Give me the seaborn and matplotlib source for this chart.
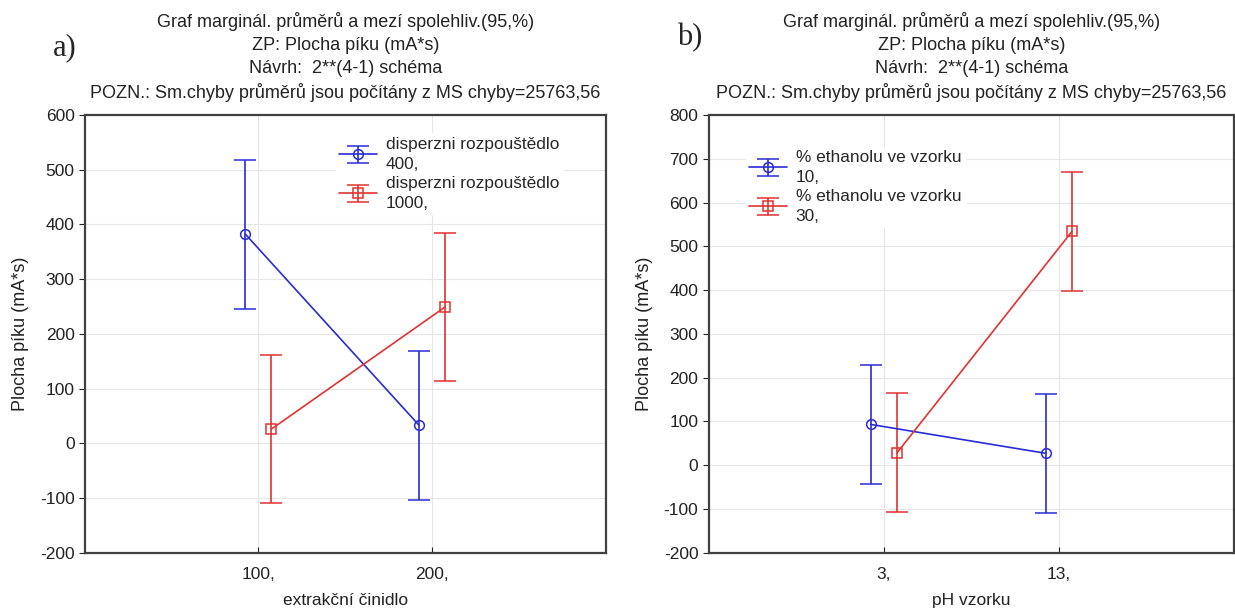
import matplotlib
matplotlib.use('Agg')
import matplotlib.pyplot as plt
import seaborn as sns

# panel a) extrakční činidlo x disperzní rozpouštědlo
a_levels = ['100,', '200,']
a_blue_mean = [382, 33]
a_red_mean = [26, 249]
a_blue_ci = [136, 136]
a_red_ci = [136, 136]
a_blue_label = 'disperzni rozpouštědlo\n400,'
a_red_label = 'disperzni rozpouštědlo\n1000,'

# panel b) pH vzorku x % ethanolu
b_levels = ['3,', '13,']
b_blue_mean = [93, 27]
b_red_mean = [28, 534]
b_blue_ci = [136, 136]
b_red_ci = [136, 136]
b_blue_label = '% ethanolu ve vzorku\n10,'
b_red_label = '% ethanolu ve vzorku\n30,'

title_lines = ['Graf marginál. průměrů a mezí spolehliv.(95,%)',
               'ZP: Plocha píku (mA*s)',
               'Návrh:  2**(4-1) schéma',
               'POZN.: Sm.chyby průměrů jsou počítány z MS chyby=25763,56']

sns.set_style('whitegrid')
plt.rcParams['font.family'] = ['Liberation Sans', 'DejaVu Sans']
plt.rcParams['axes.unicode_minus'] = False

BLUE = '#2b2bd6'
RED = '#e23232'
EDGE = '#404040'

fig = plt.figure(figsize=(12.35, 6.12), dpi=100)
ax_a = fig.add_axes([0.0688, 0.097, 0.4215, 0.715])
ax_b = fig.add_axes([0.574, 0.097, 0.425, 0.715])


def draw(ax, levels, blue_mean, blue_ci, red_mean, red_ci, blue_label, red_label,
         ylim, xlabel, leg_anchor):
    pos = [i + 1 for i in range(len(levels))]
    off = 0.075
    ax.errorbar([p - off for p in pos], blue_mean, yerr=blue_ci, color=BLUE,
                marker='o', mfc='none', ms=7, mew=1.1, lw=1.2, capsize=8,
                capthick=1.2, elinewidth=1.2, label=blue_label)
    ax.errorbar([p + off for p in pos], red_mean, yerr=red_ci, color=RED,
                marker='s', mfc='none', ms=7, mew=1.1, lw=1.2, capsize=8,
                capthick=1.2, elinewidth=1.2, label=red_label)
    ax.set_xlim(0, 3)
    ax.set_xticks(pos)
    ax.set_xticklabels(levels)
    ax.set_ylim(*ylim)
    ax.set_yticks(range(ylim[0], ylim[1] + 1, 100))
    ax.grid(color='#e6e6e6', lw=0.8)
    for s in ax.spines.values():
        s.set_color(EDGE)
        s.set_linewidth(1.6)
    ax.tick_params(axis='y', labelsize=12.5, colors='#222222', length=4,
                   direction='out', left=True)
    ax.tick_params(axis='x', labelsize=12.5, colors='#222222', length=4,
                   direction='in', bottom=True, pad=10)
    ax.set_xlabel(xlabel, fontsize=12.5, labelpad=8, color='#222222')
    ax.set_ylabel('Plocha píku (mA*s)', fontsize=13, labelpad=8, color='#222222')
    ax.set_title('\n'.join(title_lines), fontsize=13, linespacing=1.45,
                 color='#222222', pad=12)
    leg = ax.legend(loc='upper left', bbox_to_anchor=leg_anchor, fontsize=12.4,
                    frameon=True, framealpha=1, edgecolor='white',
                    handlelength=2.2, handletextpad=0.5, labelspacing=0.25,
                    borderpad=0.2, borderaxespad=0)
    for t in leg.get_texts():
        t.set_linespacing(1.4)


draw(ax_a, a_levels, a_blue_mean, a_blue_ci, a_red_mean, a_red_ci,
     a_blue_label, a_red_label, (-200, 600), 'extrakční činidlo', (0.482, 0.958))
draw(ax_b, b_levels, b_blue_mean, b_blue_ci, b_red_mean, b_red_ci,
     b_blue_label, b_red_label, (-200, 800), 'pH vzorku', (0.07, 0.928))

fig.text(0.043, 0.922, 'a)', fontsize=22, family='Liberation Serif', va='center')
fig.text(0.548, 0.938, 'b)', fontsize=22, family='Liberation Serif', va='center')

fig.savefig('out.png', dpi=100)
